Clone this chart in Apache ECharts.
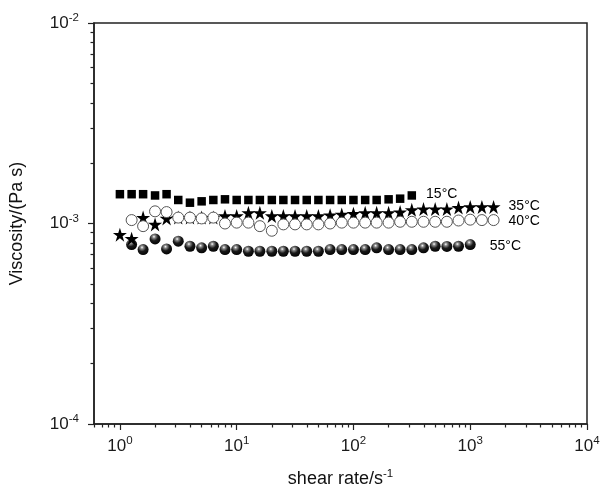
<!DOCTYPE html>
<html>
<head>
<meta charset="utf-8">
<script src="https://cdn.jsdelivr.net/npm/echarts@6/dist/echarts.min.js"></script>
<style>
html,body{margin:0;padding:0;background:#fff;}
#chart{width:601px;height:487px;}
</style>
</head>
<body>
<div id="chart"></div>
<script>
// shear rate, s^-1
const shearRates = [1, 1.26, 1.58, 2, 2.51, 3.16, 3.98, 5.01, 6.31, 7.94,
  10, 12.6, 15.8, 20, 25.1, 31.6, 39.8, 50.1, 63.1, 79.4,
  100, 126, 158, 200, 251, 316, 398, 501, 631, 794, 1000, 1259, 1585];

// viscosity in mPa s (×1e-3 Pa s)
const visc15 = [1.40,1.40,1.40,1.38,1.40,1.31,1.27,1.29,1.31,1.32,1.31,1.31,1.31,1.31,1.31,1.31,1.31,1.31,1.31,1.31,1.31,1.31,1.31,1.32,1.33,1.38];
const rates15 = shearRates.slice(0, 26);

const visc35 = [0.88,0.84,1.07,0.99,1.06,1.07,1.07,1.07,1.07,1.09,1.09,1.13,1.13,1.09,1.09,1.09,1.09,1.09,1.10,1.11,1.12,1.13,1.13,1.13,1.14,1.17,1.18,1.18,1.18,1.20,1.21,1.21,1.21];
const rates35 = shearRates.slice(0, 33);

const visc40 = [1.04,0.97,1.15,1.14,1.07,1.07,1.06,1.07,1.00,1.01,1.01,0.97,0.92,0.99,0.99,0.99,0.99,1.00,1.01,1.01,1.01,1.01,1.01,1.02,1.02,1.02,1.02,1.02,1.035,1.045,1.04,1.04];
const rates40 = shearRates.slice(1, 33);

const visc55 = [0.785,0.741,0.838,0.747,0.816,0.770,0.756,0.770,0.741,0.741,0.727,0.727,0.727,0.727,0.727,0.727,0.727,0.741,0.741,0.741,0.741,0.756,0.741,0.741,0.741,0.756,0.770,0.768,0.770,0.785];
const rates55 = shearRates.slice(1, 31);

const seriesNames = ['15°C', '35°C', '40°C', '55°C'];
const unitScale = 1e-3;

const xMin = 0.6, xMax = 1e4;
const yMin = 1e-4, yMax = 1e-2;
const xMajorExp = [0, 1, 2, 3, 4];
const yMajorExp = [-4, -3, -2];
const xLowMinor = [0.6, 0.7, 0.8, 0.9];

const L = Math.log10;
function minorLogs(lo, hi) {
  const out = [];
  for (let e = Math.floor(L(lo)); e < Math.ceil(L(hi)); e++) {
    for (let m = 2; m <= 9; m++) {
      const v = L(m) + e;
      if (v >= L(lo) - 1e-9 && v <= L(hi) + 1e-9) out.push(v);
    }
  }
  return out;
}

const FONT = 'Liberation Sans, Arial, sans-serif';

function build(rates, visc, label, dist, dy) {
  return rates.map((x, i) => {
    const v = [L(x), L(visc[i] * unitScale)];
    if (i === rates.length - 1) {
      return {
        value: v,
        label: {
          show: true, formatter: label, position: 'right', distance: dist,
          offset: [0, dy], fontSize: 14, color: '#000', opacity: 1,
          fontFamily: FONT
        }
      };
    }
    return v;
  });
}

const supFmt = (v) => '{b|10}{s|' + Math.round(v) + '}';
const richSup = {
  b: { fontSize: 17, color: '#1a1a1a', fontFamily: FONT, lineHeight: 22 },
  s: { fontSize: 11.5, color: '#1a1a1a', fontFamily: FONT, verticalAlign: 'top', lineHeight: 13 }
};

const axisLineStyle = { color: '#222', width: 1.5 };
const starPath = 'path://M50,0 L61.2,34.5 L97.6,34.5 L68.2,55.9 L79.4,90.5 L50,69.1 L20.6,90.5 L31.8,55.9 L2.4,34.5 L38.8,34.5 Z';

const ballColor = {
  type: 'radial', x: 0.4, y: 0.3, r: 0.75,
  colorStops: [
    { offset: 0, color: '#ffffff' },
    { offset: 0.18, color: '#8a8a8a' },
    { offset: 0.5, color: '#1a1a1a' },
    { offset: 1, color: '#000' }
  ]
};

const option = {
  backgroundColor: '#fff',
  animation: false,
  grid: { left: 94, right: 14, top: 23, bottom: 63, outerBoundsMode: 'none', containLabel: false, show: true, borderColor: '#222', borderWidth: 1.5, backgroundColor: 'transparent' },
  xAxis: [
    {
      type: 'value', min: L(xMin), max: L(xMax),
      name: '{t|shear rate/s}{s|-1}', nameLocation: 'middle', nameGap: 44,
      nameTextStyle: {
        rich: {
          t: { fontSize: 18, color: '#111', fontFamily: FONT, lineHeight: 22 },
          s: { fontSize: 11.5, color: '#111', fontFamily: FONT, verticalAlign: 'top', lineHeight: 13 }
        }
      },
      axisLine: { show: true, onZero: false, lineStyle: axisLineStyle },
      axisTick: { show: true, inside: false, length: 6, customValues: xMajorExp, lineStyle: { color: '#222', width: 1.2 } },
      axisLabel: { show: true, customValues: xMajorExp, margin: 11, formatter: supFmt, rich: richSup },
      splitLine: { show: false }
    },
    {
      type: 'value', min: L(xMin), max: L(xMax), position: 'bottom',
      axisLine: { show: false, onZero: false },
      axisTick: { show: true, inside: false, length: 3.5, customValues: xLowMinor.map(L).concat(minorLogs(1, xMax)), lineStyle: { color: '#222', width: 1.2 } },
      axisLabel: { show: false },
      splitLine: { show: false }
    }
  ],
  yAxis: [
    {
      type: 'value', min: L(yMin), max: L(yMax),
      name: 'Viscosity/(Pa s)', nameLocation: 'middle', nameGap: 68,
      nameTextStyle: { fontSize: 18, color: '#111', fontFamily: FONT },
      axisLine: { show: true, onZero: false, lineStyle: axisLineStyle },
      axisTick: { show: true, inside: false, length: 6, customValues: yMajorExp, lineStyle: { color: '#222', width: 1.2 } },
      axisLabel: { show: true, customValues: yMajorExp, margin: 15, formatter: supFmt, rich: richSup },
      splitLine: { show: false }
    },
    {
      type: 'value', min: L(yMin), max: L(yMax), position: 'left',
      axisLine: { show: false, onZero: false },
      axisTick: { show: true, inside: false, length: 3.5, customValues: minorLogs(yMin, yMax), lineStyle: { color: '#222', width: 1.2 } },
      axisLabel: { show: false },
      splitLine: { show: false }
    }
  ],
  series: [
    {
      name: seriesNames[0], type: 'scatter', symbol: 'rect', symbolSize: 8.5,
      itemStyle: { color: '#000', opacity: 1 }, z: 2,
      data: build(rates15, visc15, seriesNames[0], 10, -1)
    },
    {
      name: seriesNames[3], type: 'scatter', symbol: 'circle', symbolSize: 11,
      itemStyle: { color: ballColor, opacity: 1 }, z: 2,
      data: build(rates55, visc55, seriesNames[3], 14, 2)
    },
    {
      name: seriesNames[1], type: 'scatter', symbol: starPath, symbolSize: 14,
      itemStyle: { color: '#000', opacity: 1 }, z: 3,
      data: build(rates35, visc35, seriesNames[1], 8, -1)
    },
    {
      name: seriesNames[2], type: 'scatter', symbol: 'circle', symbolSize: 11,
      itemStyle: { color: '#fff', borderColor: '#555', borderWidth: 1, opacity: 1 }, z: 4,
      data: build(rates40, visc40, seriesNames[2], 9, 1)
    }
  ]
};

const chart = echarts.init(document.getElementById('chart'), null, { renderer: 'canvas' });
chart.setOption(option);
</script>
</body>
</html>
